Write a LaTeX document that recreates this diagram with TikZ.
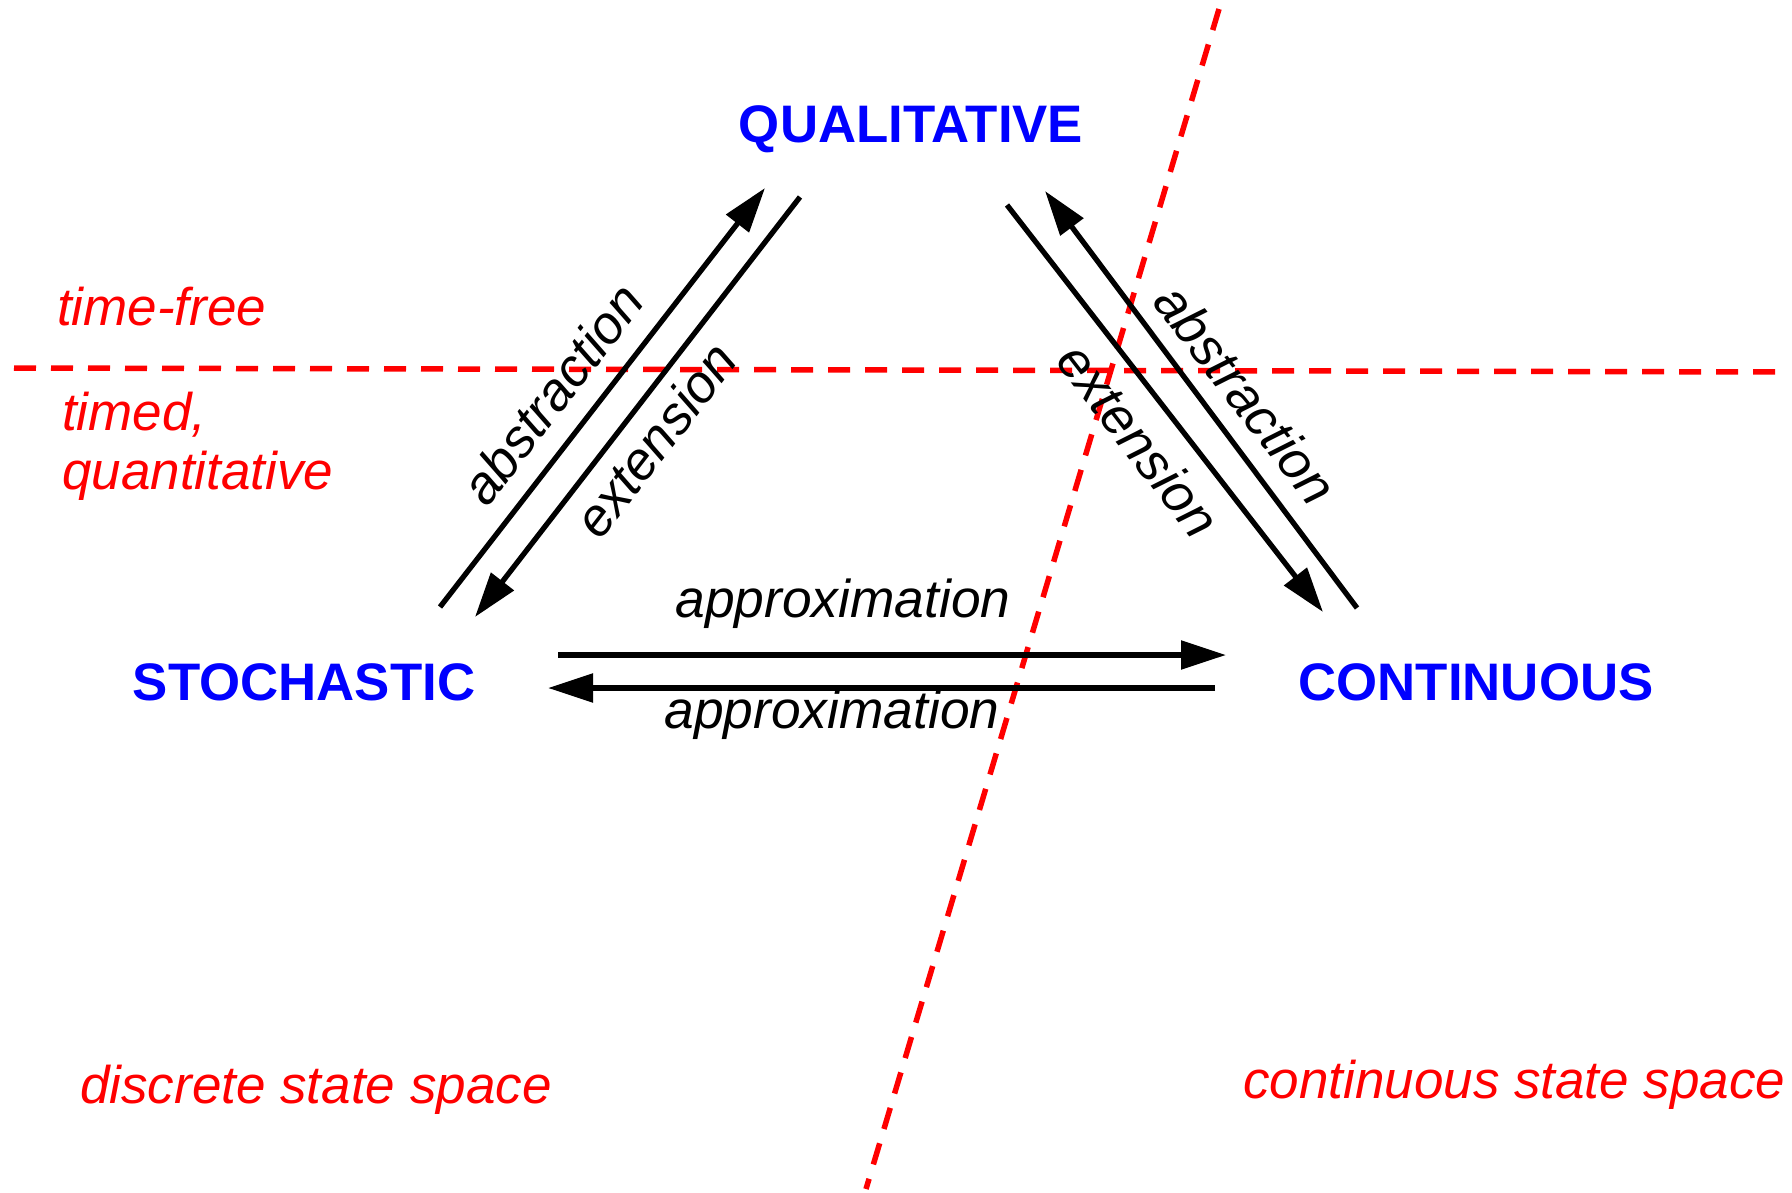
\documentclass[tikz,border=0pt]{standalone}
\usepackage{fontspec}
\setmainfont{Liberation Sans}
\usetikzlibrary{arrows.meta}
\definecolor{catblue}{RGB}{0,0,255}
\definecolor{regred}{RGB}{255,0,0}
\begin{document}
\begin{tikzpicture}[x=1pt,y=-1pt,
  cat/.style={text=catblue, font=\fontsize{52.8}{62}\selectfont\bfseries, inner sep=0pt},
  lbl/.style={font=\fontsize{53.3}{62}\selectfont\itshape, inner sep=0pt},
  region/.style={text=regred, font=\fontsize{53}{60}\selectfont\itshape, inner sep=0pt, anchor=base west},
  divider/.style={regred, line width=5.5pt, dash pattern=on 22pt off 15pt},
  conn/.style={line width=5.3pt, -{Triangle[length=45pt,width=28pt]}}]
\useasboundingbox (0,0) rectangle (1792,1192);

% dividers
\coordinate (h1) at (14,368);
\coordinate (h2) at (1783,372);
\coordinate (v1) at (1219,9);
\coordinate (v2) at (866,1189);
\draw[divider] (h1) -- (h2);
\draw[divider] (v1) -- (v2);

% region labels
\node[region] (tf) at (57,325) {time-free};
\node[region] (td) at (62,430) {timed,};
\node[region] (qt) at (62,489) {quantitative};
\node[region] (dss) at (80,1103) {discrete state space};
\node[region] (css) at (1243,1098) {continuous state space};

% categories
\node[cat] (qual) at (911,129) {QUALITATIVE};
\node[cat] (stoch) at (304,682) {STOCHASTIC};
\node[cat] (cont) at (1476,682) {CONTINUOUS};

% connector end points
\coordinate (sq1) at (440,607);  \coordinate (sq2) at (765,188);
\coordinate (qs1) at (800,197);  \coordinate (qs2) at (475,617);
\coordinate (qc1) at (1007,205); \coordinate (qc2) at (1323,612);
\coordinate (cq1) at (1357,608); \coordinate (cq2) at (1045,191);
\coordinate (sc1) at (558,655);  \coordinate (sc2) at (1226,655);
\coordinate (cs1) at (1215,688); \coordinate (cs2) at (548,688);

\draw[conn] (sq1) -- (sq2);
\draw[conn] (qs1) -- (qs2);
\draw[conn] (qc1) -- (qc2);
\draw[conn] (cq1) -- (cq2);
\draw[conn] (sc1) -- (sc2);
\draw[conn] (cs1) -- (cs2);

% connector labels
\node[lbl, rotate=52.3] (l1) at (552,394) {abstraction};
\node[lbl, rotate=52.3] (l2) at (655,440) {extension};
\node[lbl, rotate=-52.3] (l3) at (1246,394) {abstraction};
\node[lbl, rotate=-52.3] (l4) at (1139,440) {extension};
\node[lbl] (l5) at (843,604) {approximation};
\node[lbl] (l6) at (832,715) {approximation};
\end{tikzpicture}
\end{document}
